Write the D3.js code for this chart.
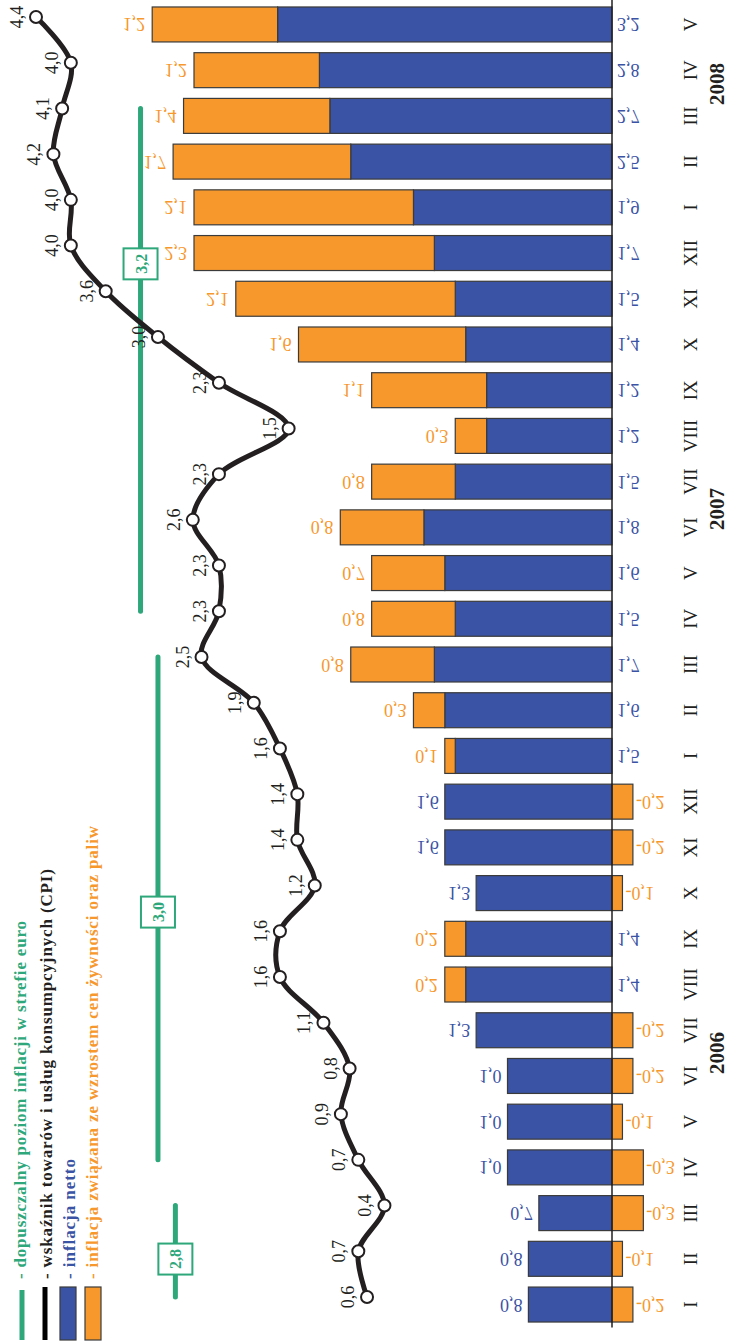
<!DOCTYPE html>
<html>
<head>
<meta charset="utf-8">
<script src="https://cdn.jsdelivr.net/npm/d3@7"></script>
<style>
  body { margin: 0; background: #fff; }
  svg { display: block; }
  text { font-family: "Liberation Serif", "Times New Roman", serif; }
</style>
</head>
<body>
<svg id="chart" width="730" height="1344"></svg>
<script>
// Monthly inflation, I 2006 – V 2008 (%, r/r)
const monthLabels = ["I","II","III","IV","V","VI","VII","VIII","IX","X","XI","XII",
                     "I","II","III","IV","V","VI","VII","VIII","IX","X","XI","XII",
                     "I","II","III","IV","V"];
const yearLabels = ["2006", "2007", "2008"];
// CPI
const cpi = [0.6,0.7,0.4,0.7,0.9,0.8,1.1,1.6,1.6,1.2,1.4,1.4,
             1.6,1.9,2.5,2.3,2.3,2.6,2.3,1.5,2.3,3.0,3.6,4.0,
             4.0,4.2,4.1,4.0,4.4];
// inflacja netto
const netto = [0.8,0.8,0.7,1.0,1.0,1.0,1.3,1.4,1.4,1.3,1.6,1.6,
               1.5,1.6,1.7,1.5,1.6,1.8,1.5,1.2,1.2,1.4,1.5,1.7,
               1.9,2.5,2.7,2.8,3.2];
// food and fuel component
const foodFuel = [-0.2,-0.1,-0.3,-0.3,-0.1,-0.2,-0.2,0.2,0.2,-0.1,-0.2,-0.2,
                  0.1,0.3,0.8,0.8,0.7,0.8,0.8,0.3,1.1,1.6,2.1,2.3,
                  2.1,1.7,1.4,1.2,1.2];
// euro-area reference value and the months it applies to
const refValue = [2.8, 3.0, 3.2];
const refFrom = [0, 3, 15];
const refTo = [2, 14, 26];

const C = {
  blue: "#3a53a4",
  orange: "#f7982d",
  green: "#2ea77a",
  ink: "#231f20",
  edge: "#3b3b3b"
};

const svg = d3.select("#chart");
const idx = d3.range(monthLabels.length);
const fmt = v => d3.format(".1f")(v).replace(".", ",").replace("−", "-");

// month axis runs bottom → top
const yBand = d3.scaleBand().domain(idx).range([1327.4, 1.6])
  .paddingInner(0.235).paddingOuter(0.1175);
const yMid = i => yBand(i) + yBand.bandwidth() / 2;
const yPt = d3.scalePoint().domain(idx).range([1297, 17]);

// bar values grow leftwards from the baseline
const xBar = d3.scaleLinear().domain([0, 1]).range([612, 507.5]);
// CPI / reference values
const xCpi = d3.scaleLinear().domain([0, 4.4]).range([419.3, 36]);

// ---- bars ----
const bars = svg.append("g");
bars.selectAll("rect.netto").data(idx).join("rect")
  .attr("class", "netto")
  .attr("x", i => xBar(netto[i]))
  .attr("y", i => yBand(i))
  .attr("width", i => xBar(0) - xBar(netto[i]))
  .attr("height", yBand.bandwidth())
  .attr("fill", C.blue).attr("stroke", C.edge).attr("stroke-width", 1.2);

bars.selectAll("rect.food").data(idx).join("rect")
  .attr("class", "food")
  .attr("x", i => foodFuel[i] >= 0 ? xBar(netto[i] + foodFuel[i]) : xBar(0))
  .attr("y", i => yBand(i))
  .attr("width", i => foodFuel[i] >= 0 ? xBar(netto[i]) - xBar(netto[i] + foodFuel[i])
                                       : xBar(foodFuel[i]) - xBar(0))
  .attr("height", yBand.bandwidth())
  .attr("fill", C.orange).attr("stroke", C.edge).attr("stroke-width", 1.2);

// baseline
svg.append("line")
  .attr("x1", xBar(0)).attr("x2", xBar(0))
  .attr("y1", 0).attr("y2", yBand.range()[0])
  .attr("stroke", C.ink).attr("stroke-width", 1.5);

// bar value labels (mirrored vertically)
const barLabels = svg.append("g").attr("font-size", 18);
function flipped(x, i, txt, color, anchor) {
  barLabels.append("text")
    .attr("transform", `translate(${x},${yMid(i) - 6}) scale(1,-1)`)
    .attr("text-anchor", anchor)
    .attr("fill", color)
    .text(txt);
}
idx.forEach(i => {
  const b = netto[i], f = foodFuel[i];
  if (f >= 0) {
    flipped(xBar(0) + 5, i, fmt(b), C.blue, "start");
    flipped(xBar(b + f) - 7, i, fmt(f), C.orange, "end");
  } else {
    flipped(xBar(b) - 6, i, fmt(b), C.blue, "end");
    flipped(xBar(f) + 3, i, fmt(f), C.orange, "start");
  }
});

// ---- month and year labels ----
const axis = svg.append("g").attr("fill", C.ink);
axis.selectAll("text.m").data(idx).join("text")
  .attr("class", "m")
  .attr("transform", i => `translate(697,${yMid(i)}) rotate(-90)`)
  .attr("text-anchor", "middle")
  .attr("font-size", 19)
  .text(i => monthLabels[i]);

const yearPos = [5.5, 17.4, 26.7];
const yMidFrac = t => yMid(0) + (yMid(1) - yMid(0)) * t;
axis.selectAll("text.y").data(yearLabels).join("text")
  .attr("class", "y")
  .attr("transform", (d, k) => `translate(724,${yMidFrac(yearPos[k])}) rotate(-90)`)
  .attr("text-anchor", "middle")
  .attr("font-size", 21)
  .attr("font-weight", "bold")
  .text(d => d);

// ---- euro-area reference value ----
const ref = svg.append("g");
const yPtFrac = t => yPt(0) + (yPt(1) - yPt(0)) * t;
const refLabelAt = [0.83, 8.42, 22.6];
refValue.forEach((v, k) => {
  ref.append("line")
    .attr("x1", xCpi(v)).attr("x2", xCpi(v))
    .attr("y1", yPt(refFrom[k])).attr("y2", yPt(refTo[k]))
    .attr("stroke", C.green).attr("stroke-width", 5).attr("stroke-linecap", "round");
  const cy = yPtFrac(refLabelAt[k]);
  ref.append("rect")
    .attr("x", xCpi(v) - 17).attr("y", cy - 15.5)
    .attr("width", 34).attr("height", 31)
    .attr("fill", "#fff").attr("stroke", C.green).attr("stroke-width", 2);
  ref.append("text")
    .attr("transform", `translate(${xCpi(v) + 6},${cy}) rotate(-90)`)
    .attr("text-anchor", "middle")
    .attr("font-size", 16).attr("font-weight", "bold")
    .attr("fill", C.green)
    .text(fmt(v));
});

// ---- CPI line ----
const line = d3.line()
  .x(i => xCpi(cpi[i]))
  .y(i => yPt(i))
  .curve(d3.curveCatmullRom.alpha(0.5));
svg.append("path").datum(idx)
  .attr("d", line)
  .attr("fill", "none").attr("stroke", C.ink)
  .attr("stroke-width", 5).attr("stroke-linejoin", "round");
svg.append("g").selectAll("circle").data(idx).join("circle")
  .attr("cx", i => xCpi(cpi[i])).attr("cy", i => yPt(i)).attr("r", 6)
  .attr("fill", "#fff").attr("stroke", C.ink).attr("stroke-width", 2);
svg.append("g").attr("font-size", 18).attr("fill", C.ink)
  .selectAll("text").data(idx).join("text")
  .attr("transform", i => `translate(${xCpi(cpi[i]) - 13},${yPt(i)}) rotate(-90)`)
  .attr("text-anchor", "middle")
  .text(i => fmt(cpi[i]));

// ---- legend ----
const legend = svg.append("g");
legend.append("line").attr("x1", 22).attr("x2", 22).attr("y1", 1290).attr("y2", 1340)
  .attr("stroke", C.green).attr("stroke-width", 5);
legend.append("line").attr("x1", 45).attr("x2", 45).attr("y1", 1287).attr("y2", 1340)
  .attr("stroke", "#000").attr("stroke-width", 5);
legend.append("rect").attr("x", 60).attr("y", 1287).attr("width", 16).attr("height", 53)
  .attr("fill", C.blue).attr("stroke", C.edge).attr("stroke-width", 1.2);
legend.append("rect").attr("x", 85).attr("y", 1287).attr("width", 16).attr("height", 53)
  .attr("fill", C.orange).attr("stroke", C.edge).attr("stroke-width", 1.2);

const legendItems = [
  { x: 26, len: 358, color: C.green, text: "- dopuszczalny poziom inflacji w strefie euro" },
  { x: 52, len: 410, color: C.ink, text: "- wskaźnik towarów i usług konsumpcyjnych (CPI)" },
  { x: 75, len: 120, color: C.blue, text: "- inflacja netto" },
  { x: 98, len: 453, color: C.orange, text: "- inflacja związana ze wzrostem cen żywności oraz paliw" }
];
legend.selectAll("text").data(legendItems).join("text")
  .attr("transform", d => `translate(${d.x},1279) rotate(-90)`)
  .attr("font-size", 17).attr("font-weight", "bold")
  .attr("textLength", d => d.len).attr("lengthAdjust", "spacing")
  .attr("fill", d => d.color)
  .text(d => d.text);
</script>
</body>
</html>
